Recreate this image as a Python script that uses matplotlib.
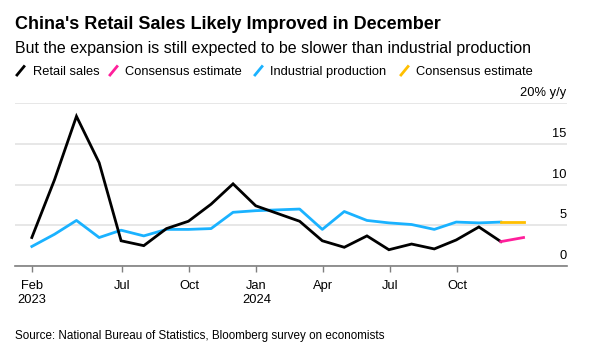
import matplotlib
matplotlib.use("Agg")
import matplotlib.pyplot as plt
import matplotlib.transforms as mtransforms
from matplotlib.lines import Line2D
import pandas as pd

# ---- data ----
retail_months = ["2023-02", "2023-03", "2023-04", "2023-05", "2023-06", "2023-07",
                 "2023-08", "2023-09", "2023-10", "2023-11", "2023-12",
                 "2024-02", "2024-03", "2024-04", "2024-05", "2024-06", "2024-07",
                 "2024-08", "2024-09", "2024-10", "2024-11"]
retail_sales = [3.5, 10.6, 18.4, 12.7, 3.1, 2.5, 4.6, 5.5, 7.6, 10.1, 7.4,
                5.5, 3.1, 2.3, 3.7, 2.0, 2.7, 2.1, 3.2, 4.8, 3.0]
industrial_production = [2.4, 3.9, 5.6, 3.5, 4.4, 3.7, 4.5, 4.5, 4.6, 6.6, 6.8,
                         7.0, 4.5, 6.7, 5.6, 5.3, 5.1, 4.5, 5.4, 5.3, 5.4]
consensus_months = ["2024-11", "2024-12"]
retail_consensus = [3.0, 3.5]
industrial_consensus = [5.4, 5.4]

tick_dates = ["2023-02-28", "2023-07-01", "2023-10-01", "2024-01-01",
              "2024-04-01", "2024-07-01", "2024-10-01"]
tick_labels = ["Feb\n2023", "Jul", "Oct", "Jan\n2024", "Apr", "Jul", "Oct"]
y_ticks = [0, 5, 10, 15, 20]
y_tick_labels = ["0", "5", "10", "15", "20% y/y"]

title = "China's Retail Sales Likely Improved in December"
subtitle = "But the expansion is still expected to be slower than industrial production"
legend_labels = ["Retail sales", "Consensus estimate", "Industrial production", "Consensus estimate"]
source = "Source: National Bureau of Statistics, Bloomberg survey on economists"

# ---- style ----
C_BLACK = "#000000"
C_PINK = "#ff1f9b"
C_BLUE = "#1ab2ff"
C_YELLOW = "#ffbf00"
FONT = ["Liberation Sans", "DejaVu Sans"]
plt.rcParams["font.family"] = FONT


def month_end(ms):
    return [pd.Period(m, freq="M").end_time.normalize() for m in ms]


W, H, DPI = 590, 358, 100
fig = plt.figure(figsize=(W / DPI, H / DPI), dpi=DPI)

left_px, right_px, top_px, bottom_px = 15, 566.7, 103.3, 266
ax = fig.add_axes([left_px / W, 1 - bottom_px / H,
                   (right_px - left_px) / W, (bottom_px - top_px) / H])

xr = month_end(retail_months)
xc = month_end(consensus_months)
ax.plot(xr, retail_sales, color=C_BLACK, lw=2, solid_joinstyle="miter", zorder=4)
ax.plot(xc, retail_consensus, color=C_PINK, lw=2, zorder=4)
ax.plot(xr, industrial_production, color=C_BLUE, lw=2, zorder=3)
ax.plot(xc, industrial_consensus, color=C_YELLOW, lw=2, zorder=3)

ax.set_xlim(pd.Timestamp("2023-02-05"), pd.Timestamp("2025-02-28"))
ax.set_ylim(0, 20)

for s in ["top", "right", "left"]:
    ax.spines[s].set_visible(False)
ax.spines["bottom"].set_color("#7f7f7f")
ax.spines["bottom"].set_linewidth(1.2)
ax.spines["bottom"].set_zorder(5)

ax.set_yticks(y_ticks)
ax.yaxis.grid(True, color="#e3e3e3", lw=1.2)
ax.set_axisbelow(True)
ax.tick_params(axis="y", length=0, labelleft=False)

ax.set_xticks([pd.Timestamp(d) for d in tick_dates])
ax.set_xticklabels(tick_labels, fontsize=9.3, linespacing=1.25)
ax.tick_params(axis="x", length=4, width=1, color="#7f7f7f", pad=6)

# y labels above the gridlines at the right edge
off = mtransforms.offset_copy(ax.get_yaxis_transform(), fig=fig, x=0, y=7, units="dots")
for v, lab in zip(y_ticks, y_tick_labels):
    ax.text(1.0, v, lab, transform=off, ha="right", va="baseline", fontsize=9.3)

# titles
fig.text(15 / W, 1 - 29.3 / H, title, fontsize=13.0, fontweight="bold", va="baseline", ha="left")
fig.text(15 / W, 1 - 52.7 / H, subtitle, fontsize=11.5, va="baseline", ha="left")

# legend
leg_colors = [C_BLACK, C_PINK, C_BLUE, C_YELLOW]
slash_x = [16, 109, 254, 400]
text_x = [33, 125, 270, 416]
for c, sx, tx, lab in zip(leg_colors, slash_x, text_x, legend_labels):
    fig.add_artist(Line2D([(sx + 1) / W, (sx + 8) / W], [1 - 75 / H, 1 - 66.5 / H],
                          color=c, lw=2, transform=fig.transFigure))
    fig.text(tx / W, 1 - 75 / H, lab, fontsize=9.3, va="baseline", ha="left")

fig.text(15 / W, 1 - 339 / H, source, fontsize=8.4, va="baseline", ha="left")

fig.savefig("out.png", dpi=DPI)
